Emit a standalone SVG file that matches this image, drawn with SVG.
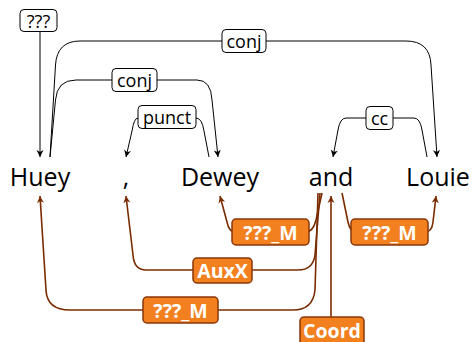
<svg xmlns="http://www.w3.org/2000/svg" width="474" height="342" viewBox="0 0 474 342">
<style>
.w{font-family:"Open Sans","Liberation Sans",sans-serif;font-size:25px;fill:#000;text-anchor:middle}
.lb{fill:#fff;stroke:#000;stroke-width:1}
.lt{font-family:"Open Sans","Liberation Sans",sans-serif;font-size:18px;fill:#000;text-anchor:middle;dominant-baseline:central}
.ob{fill:#f2801f;stroke:#8a3608;stroke-width:1.5}
.ot{font-family:"Open Sans","Liberation Sans",sans-serif;font-size:19.5px;font-weight:bold;fill:#fff;text-anchor:middle;dominant-baseline:central}
.k{fill:none;stroke:#000;stroke-width:1}
.b{fill:none;stroke:#7a2c00;stroke-width:1.6}
</style>
<defs>
<marker id="ak" viewBox="-8 -4 9 8" refX="0" refY="0" markerWidth="9" markerHeight="8" markerUnits="userSpaceOnUse" orient="auto">
<path d="M0,0 L-7,-3.5 L-5,0 L-7,3.5 Z" fill="#000"/>
</marker>
<marker id="ab" viewBox="-8 -4 9 8" refX="0" refY="0" markerWidth="9" markerHeight="8" markerUnits="userSpaceOnUse" orient="auto">
<path d="M0,0 L-7,-3.5 L-5,0 L-7,3.5 Z" fill="#7a2c00"/>
</marker>
</defs>
<g id="connectors">
<path class="k" d="M40,32 L40,157" marker-end="url(#ak)"/>
<path class="k" d="M50,157 L55.5,65 Q57,41 80,41 L406,41 Q430,41 431,65 L437,157" marker-end="url(#ak)"/>
<path class="k" d="M50,157 L55.5,100 Q57,80 76,80 L197,80 Q211,80 212,100 L218,157" marker-end="url(#ak)"/>
<path class="k" d="M209,157 L204,131 Q202,118 196,118 L138,118 Q134,118 132,131 L126,157" marker-end="url(#ak)"/>
<path class="k" d="M427,157 L422,130 Q420,118 414,118 L346,118 Q340,118 338,130 L333,157" marker-end="url(#ak)"/>
<path class="b" d="M322,193 L316,220 Q313,232 306,232 L235,232 Q229,232 227,222 L220,196" marker-end="url(#ab)"/>
<path class="b" d="M320,193 L315,255 Q313,270 298,270 L146,270 Q134,270 133,255 L126,196" marker-end="url(#ab)"/>
<path class="b" d="M318,193 L315,290 Q313,310 293,310 L70,310 Q47,310 46,290 L40,196" marker-end="url(#ab)"/>
<path class="b" d="M331,317 L331,196" marker-end="url(#ab)"/>
<path class="b" d="M342,193 L348,222 Q350,232 356,232 L425,232 Q432,232 433,222 L436,196" marker-end="url(#ab)"/>
</g>
<g id="w-huey"><text class="w" x="40" y="186">Huey</text></g>
<g id="w-comma"><text class="w" x="126" y="186">,</text></g>
<g id="w-dewey"><text class="w" x="220" y="186">Dewey</text></g>
<g id="w-and"><text class="w" x="331" y="186">and</text></g>
<g id="w-louie"><text class="w" x="438" y="186">Louie</text></g>
<g id="l-root"><rect class="lb" x="20" y="9.5" width="37" height="22" rx="4"/><text class="lt" x="38.5" y="20.5">???</text></g>
<g id="l-conj1"><rect class="lb" x="222" y="29.5" width="44" height="23" rx="4"/><text class="lt" x="244" y="41">conj</text></g>
<g id="l-conj2"><rect class="lb" x="112" y="68.5" width="45" height="23" rx="4"/><text class="lt" x="134.5" y="80">conj</text></g>
<g id="l-punct"><rect class="lb" x="138" y="105.5" width="58" height="23" rx="4"/><text class="lt" x="167" y="117">punct</text></g>
<g id="l-cc"><rect class="lb" x="366" y="106.5" width="27" height="23" rx="4"/><text class="lt" x="379.5" y="118">cc</text></g>
<g id="l-m1"><rect class="ob" x="232" y="219" width="77" height="26" rx="4"/><text class="ot" x="270.5" y="232">???_M</text></g>
<g id="l-auxx"><rect class="ob" x="193" y="258" width="59" height="25" rx="4"/><text class="ot" x="222.5" y="270.5">AuxX</text></g>
<g id="l-m2"><rect class="ob" x="143" y="297" width="75" height="26" rx="4"/><text class="ot" x="180.5" y="310">???_M</text></g>
<g id="l-coord"><rect class="ob" x="300" y="317" width="64" height="28" rx="4"/><text class="ot" x="332" y="330">Coord</text></g>
<g id="l-m3"><rect class="ob" x="351" y="219" width="77" height="26" rx="4"/><text class="ot" x="389.5" y="232">???_M</text></g>
</svg>
